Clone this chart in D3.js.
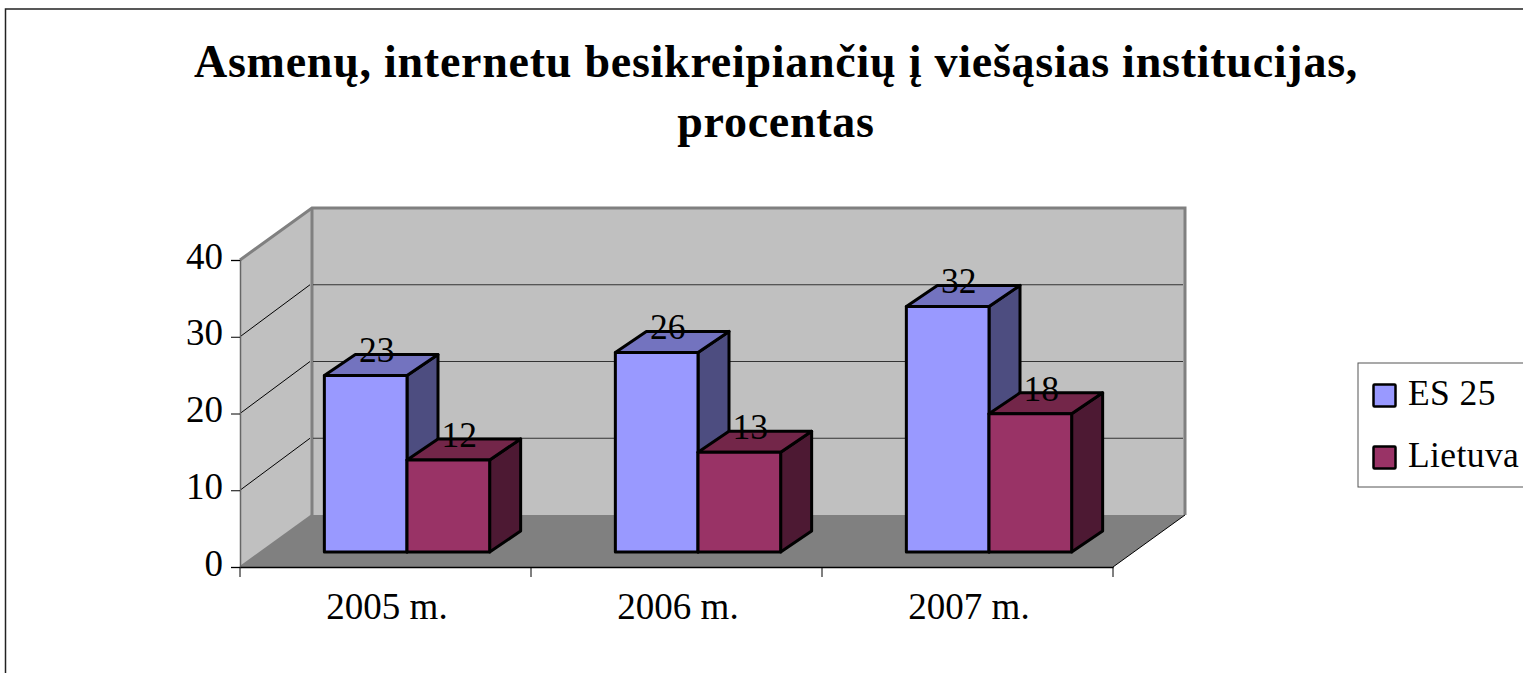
<!DOCTYPE html>
<html><head><meta charset="utf-8">
<script src="https://cdn.jsdelivr.net/npm/d3@7"></script>
<style>html,body{margin:0;padding:0;background:#fff;overflow:hidden}svg{display:block}
text{font-family:"Liberation Serif",serif;fill:#000}</style></head>
<body><svg id="c" width="1523" height="673"></svg>
<script>
const categories = ["2005 m.","2006 m.","2007 m."];
const seriesNames = ["ES 25","Lietuva"];
const es25 = [23,26,32];
const lietuva = [12,13,18];
const yTicks = [0,10,20,30,40];
const titleLines = ["Asmenų, internetu besikreipiančių į viešąsias institucijas,","procentas"];

const colors = {
  "ES 25":{front:"#9999ff",top:"#7373bf",side:"#4d4d80"},
  "Lietuva":{front:"#993366",top:"#732649",side:"#4d1933"}
};
const svg = d3.select("#c");
const x = d3.scaleBand().domain(categories).range([240,1113]);
const y = d3.scaleLinear().domain([0,40]).range([567,260]);
const depth = {dx:72,dy:-52};
const inset = {dx:21.5,dy:-15};
const barDepth = {dx:31,dy:-21};
const gapFrac = 0.216;
const pts = a => a.map(p=>p.join(",")).join(" ");

// frame
svg.append("rect").attr("x",5.5).attr("y",9).attr("width",1600).attr("height",800)
  .attr("fill","#fff").attr("stroke","#222").attr("stroke-width",1.5);

// title
svg.selectAll("text.title").data(titleLines).join("text").attr("class","title")
  .attr("x",776).attr("y",(d,i)=>77+i*60).attr("text-anchor","middle")
  .attr("font-weight","bold").attr("font-size",46).attr("letter-spacing",0.75).text(d=>d);

// walls and floor
const L=x.range()[0], R=x.range()[1], Y0=y(0), Y40=y(40);
svg.append("polygon").attr("points",pts([[L,Y0],[L+depth.dx,Y0+depth.dy],[L+depth.dx,Y40+depth.dy],[L,Y40]]))
  .attr("fill","#c0c0c0");
svg.append("polygon").attr("points",pts([[L+depth.dx,Y0+depth.dy],[R+depth.dx,Y0+depth.dy],[R+depth.dx,Y40+depth.dy],[L+depth.dx,Y40+depth.dy]]))
  .attr("fill","#c0c0c0");
svg.append("polygon").attr("points",pts([[L,Y0],[R,Y0],[R+depth.dx,Y0+depth.dy],[L+depth.dx,Y0+depth.dy]]))
  .attr("fill","#808080");
// wall outlines
svg.append("polyline").attr("points",pts([[L,Y40],[L+depth.dx,Y40+depth.dy],[R+depth.dx,Y40+depth.dy],[R+depth.dx,Y0+depth.dy]]))
  .attr("fill","none").attr("stroke","#808080").attr("stroke-width",3);
svg.append("line").attr("x1",L+depth.dx).attr("x2",L+depth.dx).attr("y1",Y40+depth.dy).attr("y2",Y0+depth.dy)
  .attr("stroke","#808080").attr("stroke-width",3);
svg.append("line").attr("x1",L).attr("x2",L+depth.dx).attr("y1",Y0).attr("y2",Y0+depth.dy)
  .attr("stroke","#808080").attr("stroke-width",2);
svg.append("line").attr("x1",R).attr("x2",R+depth.dx).attr("y1",Y0).attr("y2",Y0+depth.dy)
  .attr("stroke","#000").attr("stroke-width",1);

// gridlines
const g = svg.append("g");
yTicks.filter(t=>t>0&&t<40).forEach(t=>{
  g.append("line").attr("x1",L).attr("y1",y(t)).attr("x2",L+depth.dx-2).attr("y2",y(t)+depth.dy)
    .attr("stroke","#000").attr("stroke-width",1);
  g.append("line").attr("x1",L+depth.dx+1).attr("y1",y(t)+depth.dy).attr("x2",R+depth.dx-2).attr("y2",y(t)+depth.dy)
    .attr("stroke","#333").attr("stroke-width",1);
});

// axes
const ay = svg.append("g").attr("transform",`translate(${L},0)`)
  .call(d3.axisLeft(y).tickValues(yTicks).tickSize(9).tickPadding(8));
ay.selectAll("text").attr("font-size",37).attr("font-family","Liberation Serif").attr("dy","8px");
ay.select(".domain").attr("stroke","#666").attr("stroke-width",1.5);
ay.selectAll(".tick line").attr("stroke","#000");
const ax = svg.append("g").attr("transform",`translate(0,${Y0})`)
  .call(d3.axisBottom(x).tickValues([]).tickSizeOuter(0));
ax.select(".domain").attr("stroke","#000").attr("stroke-width",1.5);
const xEdges = [L].concat(categories.map(c=>x(c)+x.bandwidth()));
svg.append("g").selectAll("line").data(xEdges).join("line")
  .attr("x1",d=>d).attr("x2",d=>d).attr("y1",Y0).attr("y2",Y0+10).attr("stroke","#000");
svg.append("g").selectAll("text").data(categories).join("text")
  .attr("x",d=>x(d)+x.bandwidth()/2+1.5).attr("y",619).attr("text-anchor","middle").attr("font-size",37).text(d=>d);

// bars
const inner = d3.scaleBand().domain(seriesNames).range([0,x.bandwidth()*(1-2*gapFrac)]);
const rows = [];
categories.forEach((c,i)=>{
  rows.push({c,s:"ES 25",v:es25[i]});
  rows.push({c,s:"Lietuva",v:lietuva[i]});
});
const bars = svg.append("g").selectAll("g").data(rows).join("g");
const bx0 = d=>x(d.c)+x.bandwidth()*gapFrac+inner(d.s)+inset.dx;
const bx1 = d=>bx0(d)+inner.bandwidth();
const byT = d=>y(d.v)+inset.dy;
const byB = d=>y(0)+inset.dy;
const stroke = s=>s.attr("stroke","#000").attr("stroke-width",3).attr("stroke-linejoin","round");
bars.append("polygon").attr("points",d=>pts([[bx1(d),byT(d)],[bx1(d)+barDepth.dx,byT(d)+barDepth.dy],[bx1(d)+barDepth.dx,byB(d)+barDepth.dy],[bx1(d),byB(d)]]))
  .attr("fill",d=>colors[d.s].side).call(stroke);
bars.append("polygon").attr("points",d=>pts([[bx0(d),byT(d)],[bx1(d),byT(d)],[bx1(d)+barDepth.dx,byT(d)+barDepth.dy],[bx0(d)+barDepth.dx,byT(d)+barDepth.dy]]))
  .attr("fill",d=>colors[d.s].top).call(stroke);
bars.append("rect").attr("x",bx0).attr("y",byT).attr("width",inner.bandwidth()).attr("height",d=>byB(d)-byT(d))
  .attr("fill",d=>colors[d.s].front).call(stroke);
// data labels
svg.append("g").selectAll("text").data(rows).join("text")
  .attr("x",d=>bx0(d)+inner.bandwidth()/2+11).attr("y",d=>byT(d)-13)
  .attr("text-anchor","middle").attr("font-size",35.5).text(d=>d.v);

// legend
svg.append("rect").attr("x",1358).attr("y",363).attr("width",200).attr("height",124)
  .attr("fill","#fff").attr("stroke","#555").attr("stroke-width",1);
const leg = svg.append("g").selectAll("g").data(seriesNames).join("g")
  .attr("transform",(d,i)=>`translate(0,${i*62})`);
leg.append("rect").attr("x",1373.5).attr("y",384.5).attr("width",22).attr("height",22).attr("rx",1)
  .attr("fill",d=>colors[d].front).attr("stroke","#000").attr("stroke-width",2.5);
leg.append("text").attr("x",1408).attr("y",405).attr("font-size",35.5).attr("letter-spacing",0.4).text(d=>d);
</script></body></html>
